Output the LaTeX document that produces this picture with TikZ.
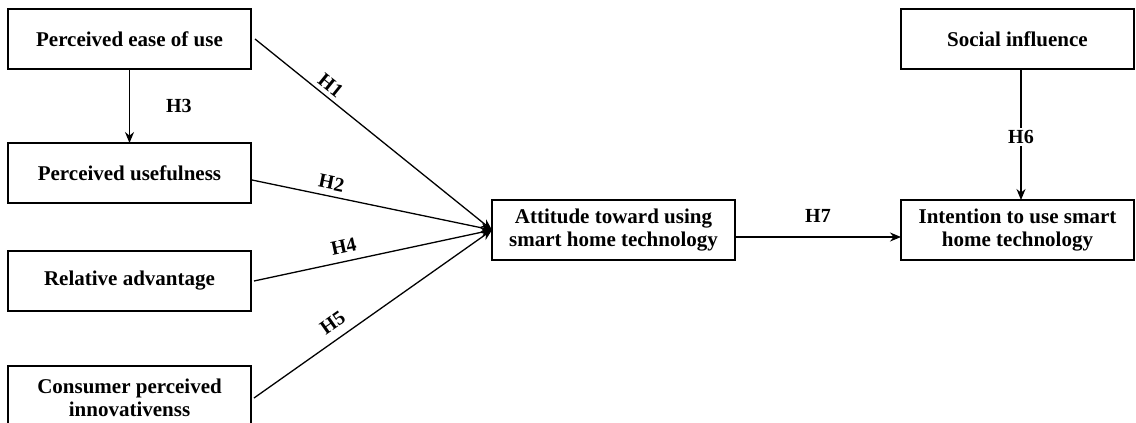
\documentclass[tikz,border=0pt]{standalone}
\usepackage{fontspec}
\setmainfont{Liberation Serif}
\usepackage{xcolor}
\usetikzlibrary{arrows.meta, positioning}
\definecolor{ModelBlack}{RGB}{0, 0, 0}
\definecolor{ModelWhite}{RGB}{255, 255, 255}

\begin{document}
\begin{tikzpicture}[
    x=1pt, y=-1pt,
    font=\fontsize{21}{23}\selectfont\bfseries,
    % Styles
    construct/.style={rectangle, line width=1.8pt, minimum width=243pt, minimum height=60pt, inner sep=4pt, outer sep=0pt, align=center, draw=ModelBlack, fill=ModelWhite, text=ModelBlack},
    arrow/.style={line width=1.3pt, -{Stealth[length=11pt, width=9pt]}, color=ModelBlack},
    hyp/.style={font=\fontsize{20}{22}\selectfont\bfseries, inner sep=2pt, text=ModelBlack}
]
\useasboundingbox (0,0) rectangle (1136,423);

% ==========================================================================================
% ANTECEDENTS (Left Column)
% ==========================================================================================

\node[construct] (ease) at (129.5,39) {Perceived ease of use};
\node[construct, below=74pt of ease] (useful) {Perceived usefulness};
\node[construct, below=48pt of useful] (advantage) {Relative advantage};
\node[construct, below=55pt of advantage, minimum height=64pt] (innov) {Consumer perceived\\innovativenss};

% H3
\draw[arrow] (ease.south) -- node[hyp, right=34pt] {H3} (useful.north);

% ==========================================================================================
% ATTITUDE AND INTENTION (Right Side)
% ==========================================================================================

\node[construct] (attitude) at (613.5,230) {Attitude toward using\\smart home technology};
\node[construct, right=166pt of attitude, minimum width=233pt] (intention) {Intention to use smart\\home technology};
\node[construct, above=131pt of intention, minimum width=233pt] (social) {Social influence};

% Paths into attitude
\draw[arrow] ([xshift=4pt]ease.east) -- node[hyp, sloped, above=2pt, pos=0.29] {H1} (attitude.west);
\draw[arrow] ([xshift=1pt, yshift=-7pt]useful.east) -- node[hyp, sloped, above=4pt, pos=0.32] {H2} (attitude.west);
\draw[arrow] ([xshift=3pt]advantage.east) -- node[hyp, sloped, above=6pt, pos=0.39] {H4} (attitude.west);
\draw[arrow] ([xshift=3pt]innov.east) -- node[hyp, sloped, above=7pt, pos=0.37] {H5} (attitude.west);

% Attitude to intention
\draw[arrow] ([yshift=-7pt]attitude.east) -- node[hyp, above=12pt] {H7} ([yshift=-7pt]intention.west);

% Social influence to intention
\draw[arrow] ([xshift=3.5pt]social.south) -- node[hyp, fill=ModelWhite, pos=0.52] {H6} ([xshift=3.5pt]intention.north);

\end{tikzpicture}
\end{document}
